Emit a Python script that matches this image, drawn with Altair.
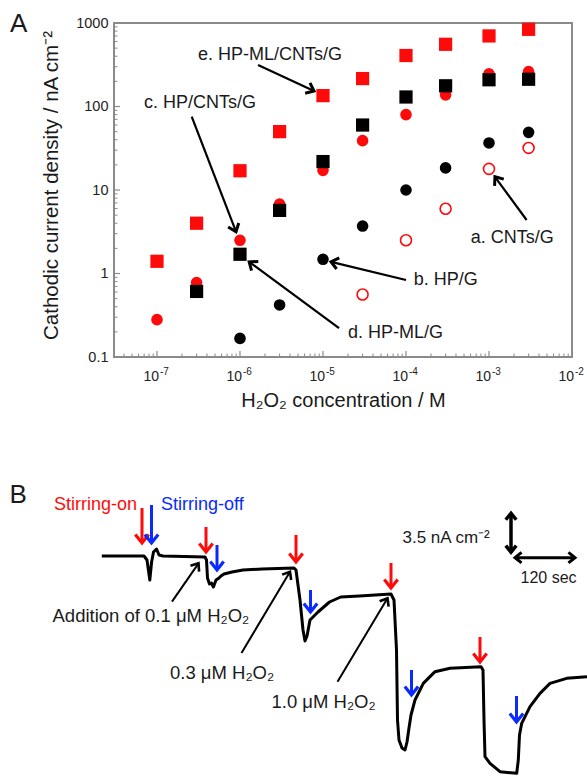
import math
import altair as alt
import pandas as pd

# ---------------- Panel A data ----------------
conc = [1e-7, 3e-7, 1e-6, 3e-6, 1e-5, 3e-5, 1e-4, 3e-4, 1e-3, 3e-3]
hpml_cnts = [1.4, 4.0, 17, 50, 135, 216, 408, 556, 700, 840]      # e. red squares
hp_cnts = [0.28, 0.78, 2.5, 6.8, 17.2, 39, 80, 138, 246, 262]     # c. red circles
hpml_conc = conc[1:]
hpml = [0.61, 1.7, 5.7, 21.9, 60, 130, 177, 209, 212]             # d. black squares
hp_conc = conc[2:]
hp = [0.167, 0.42, 1.48, 3.7, 10, 18.4, 36.6, 49]                 # b. black circles
cnts_conc = conc[5:]
cnts = [0.56, 2.5, 5.96, 17.9, 31.9]                              # a. open red circles

x_tick_vals = [1e-7, 1e-6, 1e-5, 1e-4, 1e-3, 1e-2]
x_tick_exps = ["-7", "-6", "-5", "-4", "-3", "-2"]
y_tick_vals = [0.1, 1, 10, 100, 1000]

labelsA = ["e.  HP-ML/CNTs/G", "c.  HP/CNTs/G", "d.  HP-ML/G", "b.  HP/G", "a.  CNTs/G"]
labelA_x = [3.12e-7, 6.97e-8, 2.0e-5, 1.24e-4, 6.03e-4]
labelA_y = [414, 110, 0.192, 0.836, 2.64]
arrowA_x0 = [1.65e-6, 2.62e-7, 1.56e-5, 1.0e-4, 2.84e-3]
arrowA_y0 = [314, 75.5, 0.222, 0.836, 4.37]
arrowA_x1 = [7.8e-6, 8.95e-7, 1.29e-6, 1.25e-5, 1.18e-3]
arrowA_y1 = [153, 3.17, 1.38, 1.38, 14.4]

# ---------------- Panel B data (time / s, cathodic current change / nA cm-2) ----------------
trace_t = [23.6, 108, 114, 119.6, 123.2, 127, 133, 138, 146, 230, 233, 235, 239, 243, 246.8,
           252, 258, 262, 268, 284, 306, 344, 408, 412, 420, 426, 430, 434, 440, 456, 479,
           501.4, 538.8, 602, 608, 613, 615, 618, 624, 630, 634, 638, 642, 650, 666.6, 690,
           720, 782, 786, 788, 790, 800, 820, 853.4, 856.6, 859, 863.4, 880, 900, 920, 953.4, 994]
trace_i = [0, 0, 0.36, 2.16, 0.54, -0.36, -0.63, -0.09, 0, 0.09, 0.36, 1.98, 2.52, 2.43, 2.79,
           2.16, 1.98, 1.8, 1.62, 1.44, 1.26, 1.17, 1.08, 1.26, 3.96, 6.66, 7.65, 7.2, 5.76,
           5.04, 4.14, 3.69, 3.6, 3.42, 3.96, 8.46, 14.76, 16.56, 17.28, 17.46, 16.74, 15.48,
           14.31, 12.96, 11.46, 10.41, 10.11, 9.96, 10.26, 14.76, 18.06, 18.66, 19.41, 19.56,
           18.36, 16.11, 15.06, 13.56, 12.36, 11.46, 11.01, 10.86]

on_t = [104, 232, 412, 602, 780]
on_i0 = [-4.32, -2.61, -1.89, 0.63, 7.29]
on_i1 = [-1.17, -0.36, 0.54, 2.88, 9.54]
off_t = [123, 254, 441, 643, 853]
off_i0 = [-4.59, -0.99, 3.06, 10.26, 12.6]
off_i1 = [-1.17, 1.26, 5.04, 12.51, 14.94]

labelsB = ["Addition of 0.1 μM H₂O₂", "0.3 μM H₂O₂", "1.0 μM H₂O₂"]
labelB_t = [-75, 160, 363]
labelB_i = [5.4, 10.56, 13.11]
arrowB_t0 = [164, 303, 495]
arrowB_i0 = [4.11, 8.73, 11.31]
arrowB_t1 = [217, 400, 595]
arrowB_i1 = [0.66, 1.41, 3.81]

vbar_t = 842
vbar_i = [-3.85, -0.35]
hbar_i = 0.15
hbar_t = [850, 970]

# ---------------- styling / geometry ----------------
FONT = "Liberation Sans"
RED = "#ff0a0a"
BLUE = "#0a2aff"
GRAY = "#8a8a8a"
TXT = "#1a1a1a"
W, H = 458, 334
X_MIN = 3.034e-8
T_DOM = [48, 964]
I_DOM = [-47.97, -17.91]

XS = alt.Scale(type="log", domain=[X_MIN, 1e-2], nice=False)
YS = alt.Scale(type="log", domain=[0.1, 1000], nice=False)
TS = alt.Scale(type="linear", domain=T_DOM, nice=False, zero=False)
IS = alt.Scale(type="linear", domain=I_DOM, nice=False, zero=False, reverse=True)

CHEV = "M-1,-1.25L0,0L1,-1.25"

LX0, LX1 = math.log10(X_MIN), -2


def pA(x, y):
    return ((math.log10(x) - LX0) / (LX1 - LX0) * W, (3 - math.log10(y)) / 4 * H)


def pB(t, i):
    return ((t - T_DOM[0]) / (T_DOM[1] - T_DOM[0]) * W, (i - I_DOM[0]) / (I_DOM[1] - I_DOM[0]) * H)


def head_angle(p0, p1):
    dx, dy = p1[0] - p0[0], p1[1] - p0[1]
    return math.degrees(math.atan2(-dx, dy)) % 360


def ax(f):
    return alt.X(f, type="quantitative", scale=XS, axis=None)


def ay(f):
    return alt.Y(f, type="quantitative", scale=YS, axis=None)


def bx(f):
    return alt.X(f, type="quantitative", scale=TS, axis=None)


def by(f):
    return alt.Y(f, type="quantitative", scale=IS, axis=None)


# ---------------- Panel A layers ----------------
y_major = y_tick_vals
y_minor = [m * 10 ** e for e in range(-1, 3) for m in range(2, 10)]
x_major = x_tick_vals
x_minor = [m * 10 ** e for e in range(-8, -2) for m in range(2, 10) if m * 10 ** e >= X_MIN]

sq_e = alt.Chart(pd.DataFrame({"x": conc, "y": hpml_cnts})).mark_square(
    size=175, color=RED, opacity=1).encode(
    x=alt.X("x:Q", scale=XS, axis=alt.Axis(
        labels=False, ticks=False, domain=False, grid=False,
        title="H₂O₂ concentration / M", titleFont=FONT, titleFontSize=20,
        titleFontWeight="normal", titleColor=TXT, titleBaseline="alphabetic", titleY=49)),
    y=alt.Y("y:Q", scale=YS, axis=alt.Axis(
        values=y_tick_vals, format="~g", ticks=False, domain=False, grid=False,
        labelFont=FONT, labelFontSize=14.5, labelColor="#222222", labelPadding=6,
        title="Cathodic current density / nA cm⁻²", titleFont=FONT, titleFontSize=20.5,
        titleFontWeight="normal", titleColor=TXT, titleX=-53, titleY=162)))

ticks_y_major = alt.Chart(pd.DataFrame({"v": y_major})).mark_rule(color=GRAY, strokeWidth=1.2).encode(
    y=ay("v"), x=alt.value(0), x2=alt.value(6))
ticks_y_minor = alt.Chart(pd.DataFrame({"v": y_minor})).mark_rule(color=GRAY, strokeWidth=1).encode(
    y=ay("v"), x=alt.value(0), x2=alt.value(3.5))
ticks_x_major = alt.Chart(pd.DataFrame({"v": x_major})).mark_rule(color=GRAY, strokeWidth=1.2).encode(
    x=ax("v"), y=alt.value(H), y2=alt.value(H - 6))
ticks_x_minor = alt.Chart(pd.DataFrame({"v": x_minor})).mark_rule(color=GRAY, strokeWidth=1).encode(
    x=ax("v"), y=alt.value(H), y2=alt.value(H - 3.5))

xlab_df = pd.DataFrame({"v": x_tick_vals, "e": x_tick_exps})
xlab_base = alt.Chart(xlab_df).mark_text(
    text="10", align="right", baseline="alphabetic", dx=2, font=FONT, fontSize=14, color="#222222").encode(
    x=ax("v"), y=alt.value(H + 24))
xlab_exp = alt.Chart(xlab_df).mark_text(
    align="left", baseline="alphabetic", dx=3, font=FONT, fontSize=10, color="#222222").encode(
    x=ax("v"), y=alt.value(H + 18), text="e:N")

circ_c = alt.Chart(pd.DataFrame({"x": conc, "y": hp_cnts})).mark_point(
    shape="circle", size=135, filled=True, color=RED, opacity=1).encode(x=ax("x"), y=ay("y"))
circ_b = alt.Chart(pd.DataFrame({"x": hp_conc, "y": hp})).mark_point(
    shape="circle", size=135, filled=True, color="black", opacity=1).encode(x=ax("x"), y=ay("y"))
sq_d = alt.Chart(pd.DataFrame({"x": hpml_conc, "y": hpml})).mark_square(
    size=175, color="black", opacity=1).encode(x=ax("x"), y=ay("y"))
circ_a = alt.Chart(pd.DataFrame({"x": cnts_conc, "y": cnts})).mark_point(
    shape="circle", size=120, filled=False, color=RED, strokeWidth=1.6, opacity=1).encode(x=ax("x"), y=ay("y"))

lblA = alt.Chart(pd.DataFrame({"x": labelA_x, "y": labelA_y, "t": labelsA})).mark_text(
    align="left", baseline="middle", font=FONT, fontSize=18, color=TXT).encode(
    x=ax("x"), y=ay("y"), text="t:N")

arrA_df = pd.DataFrame({"x0": arrowA_x0, "y0": arrowA_y0, "x1": arrowA_x1, "y1": arrowA_y1})
arrA_df["ang"] = [head_angle(pA(a, b), pA(c, d)) for a, b, c, d in
                  zip(arrowA_x0, arrowA_y0, arrowA_x1, arrowA_y1)]
arrA_shaft = alt.Chart(arrA_df).mark_rule(color="black", strokeWidth=2.2).encode(
    x=ax("x0"), y=ay("y0"), x2="x1:Q", y2="y1:Q")
arrA_head = alt.Chart(arrA_df).mark_point(
    shape=CHEV, size=130, filled=False, color="black", strokeWidth=3, opacity=1, strokeJoin="miter").encode(
    x=ax("x1"), y=ay("y1"), angle=alt.Angle("ang:Q", scale=None))

panel_lbl_A = alt.Chart(pd.DataFrame({"x": [1.69e-9], "y": [787], "t": ["A"]})).mark_text(
    align="left", baseline="alphabetic", font=FONT, fontSize=26, color=TXT).encode(
    x=ax("x"), y=ay("y"), text="t:N")

layersA = [sq_e, ticks_y_major, ticks_y_minor, ticks_x_major, ticks_x_minor, xlab_base, xlab_exp,
           circ_c, circ_b, sq_d, circ_a, arrA_shaft, arrA_head, lblA, panel_lbl_A]

# ---------------- Panel B layers ----------------
trace = alt.Chart(pd.DataFrame({"t": trace_t, "i": trace_i})).mark_line(
    color="black", strokeWidth=3, strokeJoin="round").encode(x=bx("t"), y=by("i"))

on_df = pd.DataFrame({"t": on_t, "i0": on_i0, "i1": on_i1})
off_df = pd.DataFrame({"t": off_t, "i0": off_i0, "i1": off_i1})
on_shaft = alt.Chart(on_df).mark_rule(color=RED, strokeWidth=3).encode(x=bx("t"), y=by("i0"), y2="i1:Q")
on_head = alt.Chart(on_df).mark_point(shape=CHEV, size=180, filled=False, color=RED, strokeWidth=3.2,
                                      opacity=1, strokeJoin="miter").encode(x=bx("t"), y=by("i1"))
off_shaft = alt.Chart(off_df).mark_rule(color=BLUE, strokeWidth=3).encode(x=bx("t"), y=by("i0"), y2="i1:Q")
off_head = alt.Chart(off_df).mark_point(shape=CHEV, size=180, filled=False, color=BLUE, strokeWidth=3.2,
                                        opacity=1, strokeJoin="miter").encode(x=bx("t"), y=by("i1"))

arrB_df = pd.DataFrame({"t0": arrowB_t0, "i0": arrowB_i0, "t1": arrowB_t1, "i1": arrowB_i1})
arrB_df["ang"] = [head_angle(pB(a, b), pB(c, d)) for a, b, c, d in
                  zip(arrowB_t0, arrowB_i0, arrowB_t1, arrowB_i1)]
arrB_shaft = alt.Chart(arrB_df).mark_rule(color="black", strokeWidth=2).encode(
    x=bx("t0"), y=by("i0"), x2="t1:Q", y2="i1:Q")
arrB_head = alt.Chart(arrB_df).mark_point(
    shape=CHEV, size=110, filled=False, color="black", strokeWidth=2.6, opacity=1, strokeJoin="miter").encode(
    x=bx("t1"), y=by("i1"), angle=alt.Angle("ang:Q", scale=None))

lblB = alt.Chart(pd.DataFrame({"t": labelB_t, "i": labelB_i, "s": labelsB})).mark_text(
    align="left", baseline="middle", font=FONT, fontSize=18.5, color=TXT).encode(
    x=bx("t"), y=by("i"), text="s:N")

vbar_df = pd.DataFrame({"t": [vbar_t], "i0": [vbar_i[0]], "i1": [vbar_i[1]]})
vbar = alt.Chart(vbar_df).mark_rule(color="black", strokeWidth=3.5).encode(x=bx("t"), y=by("i0"), y2="i1:Q")
vheads_df = pd.DataFrame({"t": [vbar_t, vbar_t], "i": vbar_i, "ang": [180, 0]})
vheads = alt.Chart(vheads_df).mark_point(shape=CHEV, size=110, filled=False, color="black", strokeWidth=3.5,
                                         opacity=1, strokeJoin="miter").encode(
    x=bx("t"), y=by("i"), angle=alt.Angle("ang:Q", scale=None))
hbar_df = pd.DataFrame({"t0": [hbar_t[0]], "t1": [hbar_t[1]], "i": [hbar_i]})
hbar = alt.Chart(hbar_df).mark_rule(color="black", strokeWidth=3).encode(x=bx("t0"), x2="t1:Q", y=by("i"))
hheads_df = pd.DataFrame({"t": hbar_t, "i": [hbar_i, hbar_i], "ang": [90, 270]})
hheads = alt.Chart(hheads_df).mark_point(shape=CHEV, size=110, filled=False, color="black", strokeWidth=3,
                                         opacity=1, strokeJoin="miter").encode(
    x=bx("t"), y=by("i"), angle=alt.Angle("ang:Q", scale=None))

txt_scale1 = alt.Chart(pd.DataFrame({"t": [625], "i": [-1.65], "s": ["3.5 nA cm⁻²"]})).mark_text(
    align="left", baseline="middle", font=FONT, fontSize=17, color=TXT).encode(
    x=bx("t"), y=by("i"), text="s:N")
txt_scale2 = alt.Chart(pd.DataFrame({"t": [917], "i": [2.0], "s": ["120 sec"]})).mark_text(
    align="center", baseline="middle", font=FONT, fontSize=16, color=TXT).encode(
    x=bx("t"), y=by("i"), text="s:N")

stir_on = alt.Chart(pd.DataFrame({"t": [-72], "i": [-4.59], "s": ["Stirring-on"]})).mark_text(
    align="left", baseline="middle", font=FONT, fontSize=18, color=RED).encode(
    x=bx("t"), y=by("i"), text="s:N")
stir_off = alt.Chart(pd.DataFrame({"t": [142], "i": [-4.59], "s": ["Stirring-off"]})).mark_text(
    align="left", baseline="middle", font=FONT, fontSize=18, color=BLUE).encode(
    x=bx("t"), y=by("i"), text="s:N")

panel_lbl_B = alt.Chart(pd.DataFrame({"t": [-161], "i": [-4.74], "s": ["B"]})).mark_text(
    align="left", baseline="alphabetic", font=FONT, fontSize=26, color=TXT).encode(
    x=bx("t"), y=by("i"), text="s:N")

layersB = [trace, on_shaft, on_head, off_shaft, off_head, arrB_shaft, arrB_head, lblB,
           vbar, vheads, hbar, hheads, txt_scale1, txt_scale2, stir_on, stir_off, panel_lbl_B]

# every layer carries its own fully specified scale, so independent resolution keeps them consistent
chart = alt.layer(*layersA, *layersB).resolve_scale(
    x="independent", y="independent").resolve_axis(
    x="independent", y="independent").properties(
    width=W, height=H,
    padding={"left": 114, "top": 23, "right": 15, "bottom": 419},
    autosize=alt.AutoSizeParams(type="none"),
    background="white",
).configure_view(stroke=GRAY, strokeWidth=2)

chart.save("out.html", embed_options={"renderer": "svg", "actions": False})
